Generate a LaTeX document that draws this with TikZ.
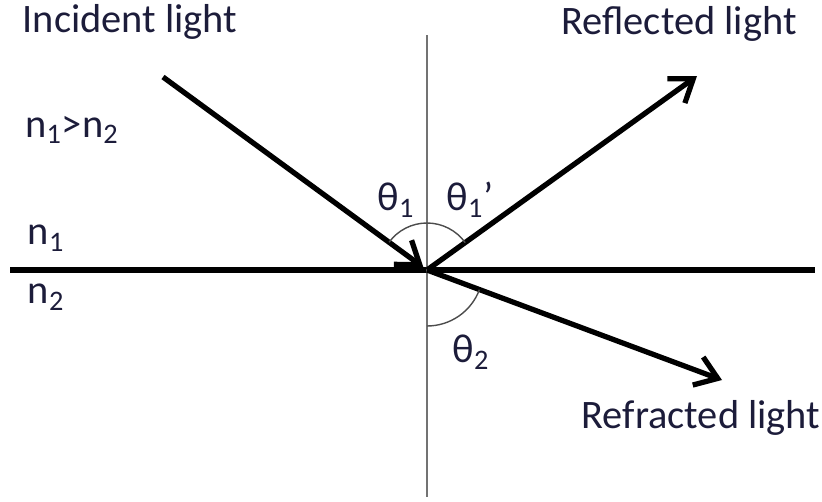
\documentclass[tikz,border=0pt]{standalone}
\usepackage{fontspec}
\setmainfont{Carlito}
\usepackage{tikz}
\usetikzlibrary{arrows.meta,positioning}
\definecolor{txtblue}{RGB}{28,28,58}

\begin{document}
\begin{tikzpicture}[
    x=0.02cm, y=0.02cm,
    ray/.style={line width=3pt, -{Straight Barb[length=12pt, width=17pt, line width=3pt]}},
    surf/.style={line width=3pt},
    normal/.style={line width=0.9pt, black!55},
    arcl/.style={line width=0.8pt, black!70},
    lbl/.style={font=\fontsize{23}{27}\selectfont, text=txtblue, inner sep=1pt}
]
\useasboundingbox (0,0) rectangle (822,-501);

% interface and normal
\coordinate (O) at (427,-270);
\coordinate (L) at (10,-270);
\coordinate (R) at (815,-270);
\coordinate (N) at (427,-35);
\coordinate (S) at (427,-497);
\draw[surf] (L) -- (R);
\draw[normal] (N) -- (S);

% rays
\coordinate (inc) at (163,-77);
\coordinate (refl) at (697,-76);
\coordinate (refr) at (722,-380);
\draw[ray, shorten >=2.5pt] (inc) -- (O);
\draw[ray] (O) -- (refl);
\draw[ray] (O) -- (refr);

% angle arcs
\draw[arcl] (O) ++(90:47) arc[start angle=90, end angle=143.8, radius=47];
\draw[arcl] (O) ++(35.6:47) arc[start angle=35.6, end angle=90, radius=47];
\draw[arcl] (O) ++(-20.6:56) arc[start angle=-20.6, end angle=-90, radius=56];

% labels
\node[lbl] (tincid) at (130,-22) {Incident light};
\node[lbl] (trefl) at (679,-24) {Reflected light};
\node[lbl] (trefr) at (701,-418) {Refracted light};
\node[lbl] (nrel) at (72,-130) {n\textsubscript{1}>n\textsubscript{2}};
\node[lbl] (none) at (46,-238) {n\textsubscript{1}};
\node[lbl] (ntwo) at (46,-297) {n\textsubscript{2}};
\node[lbl] (th1) at (396,-200) {θ\textsubscript{1}};
\node[lbl] (th1p) at (470,-200) {θ\textsubscript{1}’};
\node[lbl] (th2) at (471,-352) {θ\textsubscript{2}};
\end{tikzpicture}
\end{document}
